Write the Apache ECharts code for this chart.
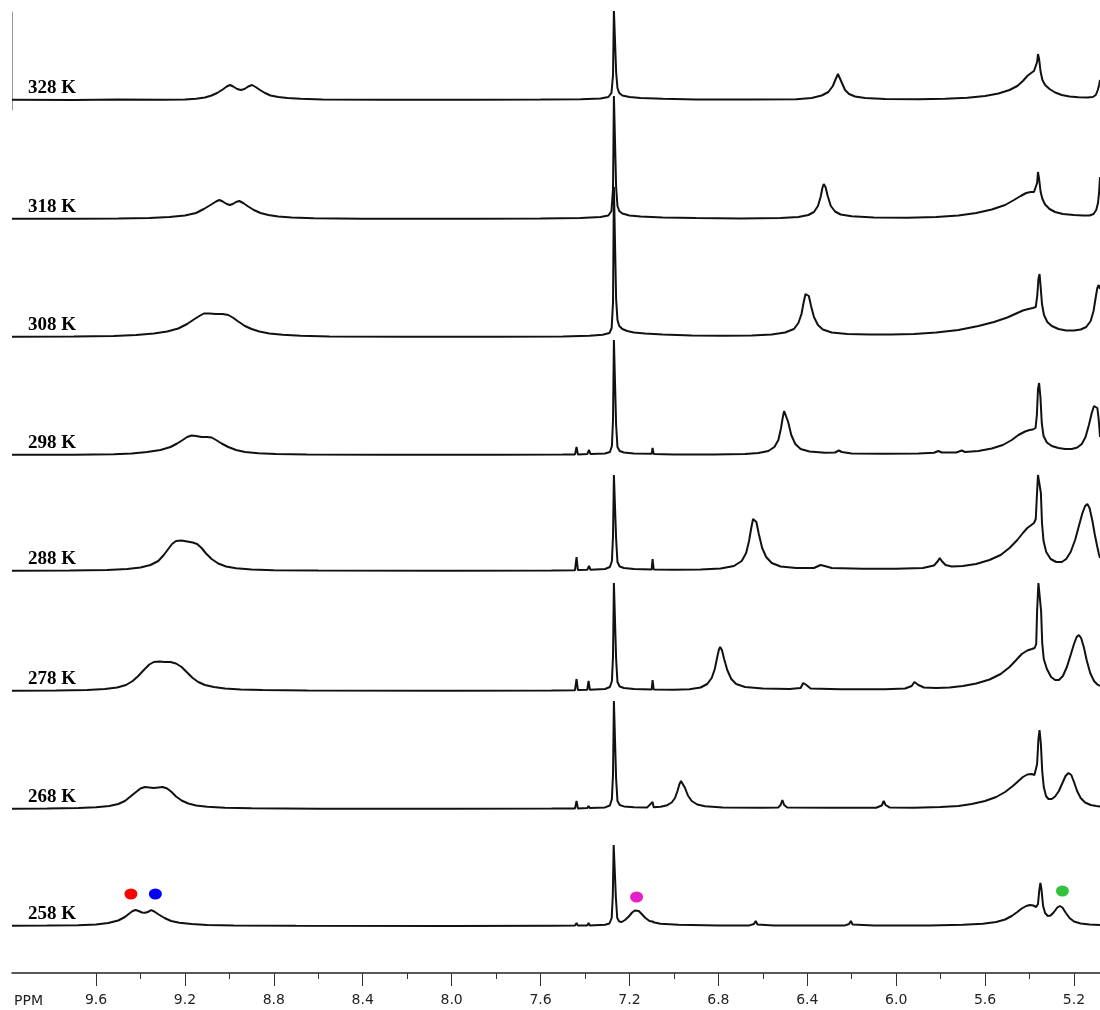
<!DOCTYPE html>
<html><head><meta charset="utf-8">
<script src="https://cdn.jsdelivr.net/npm/echarts@6/dist/echarts.min.js"></script>
<style>html,body{margin:0;padding:0;background:#fff}#c{width:1100px;height:1010px}</style>
</head><body><div id="c"></div><script>
const temperatures = ['328 K','318 K','308 K','298 K','288 K','278 K','268 K','258 K'];
const s328 = [[9.978,0.3],[9.7,0],[9.5,0.4],[9.3,0.3],[9.2,0.6],[9.15,1.2],[9.11,2.5],[9.08,4.5],[9.055,7],[9.03,10.5],[9.012,13.5],[8.997,15],[8.983,13.5],[8.965,11],[8.948,10],[8.932,11],[8.915,13.5],[8.898,15],[8.882,13],[8.862,10],[8.84,7],[8.815,4.5],[8.78,3],[8.74,2],[8.68,1.2],[8.58,0.6],[8.3,0.2],[7.9,0.2],[7.6,0.4],[7.42,0.8],[7.33,1.5],[7.295,3],[7.281,7],[7.274,25],[7.27,90],[7.264,90],[7.26,28],[7.254,12],[7.246,7],[7.232,4.5],[7.2,3],[7.15,2],[7.05,1.2],[6.9,0.6],[6.65,0.4],[6.45,0.8],[6.38,2],[6.335,4.5],[6.305,8],[6.285,14],[6.272,21],[6.262,26],[6.254,24],[6.244,17],[6.23,10],[6.212,6],[6.185,3.5],[6.14,2],[6.05,1],[5.9,0.8],[5.78,1.2],[5.68,2.2],[5.6,4],[5.54,6.5],[5.49,10],[5.455,14],[5.43,19],[5.41,24],[5.393,27],[5.38,29],[5.372,31],[5.366,38],[5.362,46],[5.357,41],[5.35,28],[5.342,20],[5.33,15],[5.31,11],[5.285,7.5],[5.255,5],[5.22,3.5],[5.18,2.8],[5.14,2.5],[5.115,3],[5.102,5],[5.093,10],[5.087,15],[5.083,20]];
const s318 = [[9.978,0.3],[9.7,0.2],[9.5,0.5],[9.36,1],[9.27,2],[9.2,3.5],[9.15,6],[9.115,10],[9.085,14],[9.06,17.5],[9.045,19],[9.03,17.5],[9.012,15],[8.998,14],[8.985,15],[8.97,17],[8.955,18],[8.938,16],[8.915,12.5],[8.89,9],[8.86,6],[8.825,4],[8.78,2.5],[8.72,1.5],[8.62,0.8],[8.4,0.3],[7.9,0.2],[7.6,0.5],[7.42,1],[7.33,2],[7.295,3.5],[7.281,8],[7.274,30],[7.27,123],[7.264,123],[7.26,32],[7.254,13],[7.246,8],[7.232,5.5],[7.2,3.5],[7.15,2.5],[7.05,1.5],[6.9,1],[6.7,0.6],[6.52,1],[6.44,2],[6.395,4],[6.37,7],[6.352,13],[6.34,22],[6.332,31],[6.326,35],[6.318,32],[6.308,23],[6.294,13],[6.275,7.5],[6.25,4.5],[6.2,2.8],[6.1,1.5],[5.95,1.2],[5.82,2],[5.72,3.5],[5.64,6],[5.57,9.5],[5.51,14],[5.47,19],[5.44,23],[5.415,26],[5.395,27],[5.38,27],[5.372,26],[5.366,36],[5.362,47],[5.357,40],[5.35,27],[5.342,20],[5.33,14.5],[5.31,10],[5.285,7],[5.25,5],[5.2,4],[5.16,3.5],[5.13,3.5],[5.112,5],[5.1,9],[5.092,16],[5.087,27],[5.083,42]];
const s308 = [[9.978,0.3],[9.7,0.4],[9.52,1],[9.42,2],[9.34,3.5],[9.28,5.5],[9.23,8.5],[9.19,13],[9.16,17.5],[9.135,21],[9.115,23.5],[9.09,23.5],[9.06,23],[9.03,23],[9.005,22],[8.985,19.5],[8.96,15.5],[8.93,11],[8.9,8],[8.865,5.5],[8.82,3.5],[8.76,2.2],[8.68,1.2],[8.55,0.6],[8.2,0.3],[7.8,0.3],[7.5,0.6],[7.38,1.2],[7.32,2.2],[7.29,4],[7.28,9],[7.274,35],[7.27,150],[7.264,150],[7.26,38],[7.254,17],[7.246,11],[7.232,8],[7.21,6],[7.18,4.5],[7.13,3.5],[7.05,2.5],[6.92,1.5],[6.78,1.2],[6.65,1.5],[6.56,2.5],[6.5,4.5],[6.46,8],[6.44,14],[6.426,23],[6.416,35],[6.408,43],[6.401,45],[6.393,41],[6.383,31],[6.37,20],[6.352,12],[6.33,7.5],[6.29,4.5],[6.22,3],[6.12,2.5],[6.02,2.5],[5.92,3],[5.82,4.5],[5.72,7],[5.63,11],[5.56,15],[5.5,19.5],[5.46,23.5],[5.43,26.5],[5.405,28],[5.385,29],[5.372,30],[5.365,42],[5.36,58],[5.355,63],[5.35,50],[5.344,33],[5.335,22],[5.32,15],[5.3,11],[5.27,8],[5.235,6.5],[5.2,6.5],[5.17,7.5],[5.145,10],[5.125,16],[5.112,26],[5.102,40],[5.095,49],[5.089,52],[5.083,48]];
const s298 = [[9.978,0.3],[9.7,0.3],[9.52,0.8],[9.44,1.5],[9.37,3],[9.31,5],[9.265,8],[9.235,11.5],[9.21,15],[9.19,18],[9.17,19.5],[9.15,19],[9.125,18],[9.1,18],[9.08,17.5],[9.06,15],[9.035,11.5],[9.005,8],[8.97,5],[8.93,3],[8.87,1.8],[8.79,1],[8.65,0.5],[8.3,0.2],[7.8,0.2],[7.5,0.4],[7.445,0.6],[7.438,8],[7.432,0.6],[7.39,0.9],[7.382,5],[7.375,0.9],[7.31,1.5],[7.288,3],[7.279,9],[7.274,35],[7.27,115],[7.264,115],[7.26,30],[7.254,8],[7.244,4],[7.225,2.5],[7.18,1.6],[7.1,1.2],[7.096,7],[7.091,1],[7.0,0.6],[6.82,0.6],[6.68,1],[6.62,2],[6.575,4],[6.548,8],[6.53,15],[6.518,27],[6.51,38],[6.504,44],[6.496,42],[6.486,33],[6.472,20],[6.454,11],[6.43,6],[6.39,3.5],[6.32,2.2],[6.275,2.5],[6.258,4.5],[6.245,3],[6.2,1.5],[6.05,1.2],[5.9,1.5],[5.83,2.2],[5.81,4],[5.795,2.5],[5.73,2.5],[5.705,4.5],[5.69,3],[5.63,4],[5.57,6.5],[5.52,10],[5.48,15],[5.45,20],[5.42,23.5],[5.4,25],[5.385,25.5],[5.373,27],[5.367,40],[5.362,66],[5.357,72],[5.351,58],[5.345,32],[5.337,19],[5.322,12.5],[5.3,9],[5.27,7],[5.24,6],[5.21,6],[5.185,7.5],[5.165,11],[5.148,18],[5.133,30],[5.12,42],[5.11,49],[5.103,51],[5.095,47],[5.089,36],[5.085,25],[5.083,18]];
const s288 = [[9.978,0.3],[9.72,0.5],[9.55,1],[9.46,2],[9.4,3.5],[9.355,6],[9.32,10],[9.295,16],[9.275,22],[9.258,27],[9.24,30],[9.215,30.5],[9.19,29.5],[9.165,28.5],[9.145,27],[9.125,23],[9.105,17.5],[9.08,12],[9.05,7.5],[9.015,4.5],[8.97,2.8],[8.9,1.6],[8.8,0.8],[8.6,0.4],[8.0,0.2],[7.55,0.5],[7.445,0.8],[7.438,14],[7.432,1],[7.39,1.2],[7.382,5],[7.375,1.2],[7.31,2],[7.288,4],[7.279,10],[7.274,35],[7.27,96],[7.264,96],[7.26,32],[7.254,9],[7.244,4.5],[7.225,3],[7.18,2],[7.1,1.6],[7.096,12],[7.091,1.5],[7.0,1.2],[6.88,1.5],[6.79,2.5],[6.73,5],[6.695,10],[6.675,18],[6.662,30],[6.652,43],[6.644,52],[6.637,54],[6.629,49],[6.618,37],[6.603,23],[6.585,14],[6.56,8],[6.52,4.5],[6.45,3],[6.37,3],[6.34,6],[6.332,8],[6.322,5],[6.29,3],[6.15,2.2],[6.0,2.2],[5.88,3],[5.83,5.5],[5.812,10],[5.804,13],[5.795,10],[5.778,6],[5.75,4.5],[5.7,5],[5.64,7],[5.58,11],[5.53,16],[5.49,23],[5.455,31],[5.43,38],[5.41,43],[5.392,46],[5.38,48],[5.372,52],[5.367,75],[5.362,96],[5.355,96],[5.349,78],[5.344,48],[5.337,30],[5.325,19],[5.305,12],[5.28,9],[5.255,9],[5.235,12],[5.215,19],[5.195,31],[5.178,45],[5.162,58],[5.15,65],[5.14,67],[5.13,63],[5.118,51],[5.106,36],[5.095,24],[5.088,17],[5.083,13]];
const s278 = [[9.978,0.3],[9.78,0.5],[9.64,1],[9.56,2],[9.505,3.5],[9.465,6],[9.435,10],[9.41,15],[9.385,21],[9.36,26.5],[9.34,29],[9.315,29.5],[9.29,29],[9.265,29],[9.24,27.5],[9.215,24],[9.19,18.5],[9.165,13],[9.14,9],[9.11,6],[9.07,4],[9.02,2.6],[8.95,1.6],[8.85,0.9],[8.65,0.4],[8.0,0.2],[7.55,0.5],[7.445,0.8],[7.438,12],[7.432,1],[7.39,1.2],[7.384,10],[7.378,1.2],[7.31,2],[7.288,4],[7.279,10],[7.274,35],[7.27,108],[7.264,108],[7.26,32],[7.254,9],[7.244,4.5],[7.225,3],[7.18,2],[7.1,1.6],[7.096,11],[7.091,1.5],[7.0,1.2],[6.93,1.8],[6.88,3.5],[6.85,7],[6.83,13],[6.816,22],[6.806,33],[6.798,41],[6.792,44],[6.784,41],[6.774,32],[6.76,21],[6.742,12],[6.72,7],[6.68,4],[6.6,2.5],[6.48,2],[6.43,3],[6.418,8],[6.412,10],[6.404,6],[6.385,2.5],[6.25,1.8],[6.05,1.8],[5.96,2.5],[5.93,5],[5.918,9],[5.91,10],[5.9,6],[5.875,3.5],[5.82,3],[5.76,3.5],[5.7,5],[5.64,7.5],[5.58,11.5],[5.53,17],[5.49,24],[5.46,31],[5.435,37],[5.41,40.5],[5.39,42],[5.377,43],[5.37,47],[5.366,80],[5.36,108],[5.354,108],[5.348,80],[5.343,48],[5.336,32],[5.322,22],[5.303,14],[5.285,11],[5.268,11],[5.25,15],[5.232,24],[5.215,36],[5.2,47],[5.188,54],[5.178,56],[5.168,53],[5.156,44],[5.142,30],[5.127,18],[5.11,10],[5.095,6.5],[5.083,5]];
const s268 = [[9.978,0.3],[9.82,0.5],[9.68,1],[9.6,1.8],[9.54,3],[9.5,5],[9.47,8],[9.445,12.5],[9.42,17],[9.4,20.5],[9.38,22],[9.36,21.5],[9.34,21],[9.32,21.5],[9.3,22],[9.28,20.5],[9.26,17],[9.24,12.5],[9.215,8.5],[9.185,5.5],[9.15,3.5],[9.1,2.2],[9.02,1.3],[8.9,0.7],[8.6,0.3],[8.0,0.2],[7.55,0.4],[7.445,0.6],[7.438,8],[7.432,0.6],[7.39,0.9],[7.384,3],[7.378,0.9],[7.31,1.6],[7.288,3.5],[7.279,10],[7.274,35],[7.27,108],[7.264,108],[7.26,30],[7.254,8],[7.244,4],[7.225,2.6],[7.18,1.8],[7.12,1.6],[7.096,7],[7.091,1.8],[7.06,2.2],[7.03,3.8],[7.01,6.5],[6.995,11],[6.984,18],[6.975,25],[6.968,28],[6.96,26.5],[6.95,21],[6.937,13.5],[6.92,8],[6.895,4.5],[6.86,2.8],[6.78,1.6],[6.6,1.2],[6.53,1.6],[6.52,4],[6.512,9],[6.504,4],[6.49,1.5],[6.3,1.2],[6.09,1.3],[6.065,3.5],[6.056,8],[6.048,4],[6.03,1.6],[5.92,1.3],[5.8,2],[5.72,3],[5.66,5],[5.6,8],[5.55,12],[5.51,17],[5.475,23],[5.45,28],[5.43,32],[5.41,34.5],[5.39,35],[5.378,34],[5.372,33],[5.366,45],[5.36,70],[5.355,79],[5.349,65],[5.343,38],[5.336,22],[5.326,13],[5.315,10],[5.3,10],[5.285,12.5],[5.268,18],[5.252,26],[5.238,33],[5.225,36],[5.212,34],[5.2,27],[5.186,18],[5.17,11],[5.15,6.5],[5.125,4],[5.1,3],[5.083,2.5]];
const s258 = [[9.978,0.3],[9.82,0.4],[9.68,0.8],[9.6,1.5],[9.545,3],[9.5,5.5],[9.47,9],[9.45,12.5],[9.435,15],[9.422,16],[9.408,15],[9.393,13.5],[9.38,13.2],[9.367,14],[9.352,15.8],[9.338,14.5],[9.318,11.5],[9.292,8],[9.262,5],[9.225,3.2],[9.17,1.9],[9.1,1.1],[8.98,0.6],[8.7,0.3],[8.0,0.1],[7.55,0.3],[7.445,0.4],[7.438,3],[7.432,0.4],[7.39,0.5],[7.384,3],[7.378,0.5],[7.31,1.2],[7.29,2.5],[7.28,8],[7.275,30],[7.271,81],[7.265,81],[7.261,28],[7.255,8],[7.246,4.5],[7.235,4],[7.22,6],[7.203,9.5],[7.188,13.5],[7.176,15.5],[7.168,16],[7.158,15],[7.145,12],[7.128,8],[7.11,5],[7.097,4.5],[7.093,5.5],[7.088,3.5],[7.06,2.2],[6.98,1.2],[6.8,0.6],[6.66,0.6],[6.64,2],[6.632,5],[6.624,1.5],[6.55,0.6],[6.23,0.6],[6.212,2],[6.204,5],[6.196,1.5],[6.1,0.6],[5.85,0.6],[5.7,1.2],[5.61,2.2],[5.55,4],[5.51,6.5],[5.48,10],[5.455,14],[5.435,17.5],[5.415,20],[5.398,21],[5.383,20.5],[5.37,19],[5.362,22],[5.356,36],[5.351,43],[5.346,36],[5.339,20],[5.33,13],[5.318,10],[5.305,10.5],[5.29,14],[5.275,18.5],[5.264,20],[5.252,18.5],[5.238,13.5],[5.22,8],[5.2,4.5],[5.17,2.5],[5.13,1.5],[5.083,1]];
const majorTicks = [9.6, 9.2, 8.8, 8.4, 8.0, 7.6, 7.2, 6.8, 6.4, 6.0, 5.6, 5.2];
const minorTicks = [9.4, 9.0, 8.6, 8.2, 7.8, 7.4, 7.0, 6.6, 6.2, 5.8, 5.4];
const markerPpm = [9.443, 9.333, 7.168, 5.252];
const markerHeight = [32, 32, 29, 35];
const markerColors = ['#ff0000', '#0000ff', '#e61ec8', '#33c23c'];

const spectra = [s328, s318, s308, s298, s288, s278, s268, s258];
const baselines = [100, 219, 337, 455, 571, 691, 809, 926];
const ppmMin = 5.083, ppmMax = 9.978;
const grids = [], xAxes = [], yAxes = [], series = [], graphics = [];
spectra.forEach((d, i) => {
  const top = i === 0 ? 12 : baselines[i] - 170;
  const up = baselines[i] - top;
  grids.push({left: 12, right: 0, top: top, height: up + 10});
  xAxes.push({gridIndex: i, type: 'value', min: ppmMin, max: ppmMax, inverse: true, show: false});
  yAxes.push({gridIndex: i, type: 'value', min: -10, max: up, show: i === 0,
    axisLine: {show: true, lineStyle: {color: '#999', width: 1}},
    axisTick: {show: false}, axisLabel: {show: false}, splitLine: {show: false}});
  series.push({type: 'line', xAxisIndex: i, yAxisIndex: i, data: d, showSymbol: false, symbol: 'none',
    lineStyle: {color: '#111', width: 2}, clip: true, animation: false, silent: true});
  graphics.push({type: 'text', x: 28, y: baselines[i] - 12,
    style: {text: temperatures[i], font: 'bold 19px "Liberation Serif"', fill: '#000', verticalAlign: 'middle'}});
});
// axis grid
grids.push({left: 12, right: 0, top: 972, height: 1});
yAxes.push({gridIndex: 8, type: 'value', show: false, min: 0, max: 1});
xAxes.push({gridIndex: 8, type: 'value', min: ppmMin, max: ppmMax, inverse: true, position: 'bottom',
  axisLine: {show: true, lineStyle: {color: '#222', width: 1.5}},
  axisTick: {show: true, customValues: majorTicks, length: 13, lineStyle: {color: '#333', width: 1}},
  axisLabel: {show: true, customValues: majorTicks, formatter: v => v.toFixed(1), margin: 20,
    fontSize: 14, fontFamily: '"DejaVu Sans"', color: '#222'},
  splitLine: {show: false}});
xAxes.push({gridIndex: 8, type: 'value', min: ppmMin, max: ppmMax, inverse: true, position: 'bottom',
  axisLine: {show: false},
  axisTick: {show: true, customValues: minorTicks, length: 6, lineStyle: {color: '#333', width: 1}},
  axisLabel: {show: false}, splitLine: {show: false}});
series.push({type: 'scatter', xAxisIndex: 7, yAxisIndex: 7, symbol: 'circle', symbolSize: [13, 11],
  animation: false, silent: true,
  data: markerPpm.map((p, k) => ({value: [p, markerHeight[k]], itemStyle: {color: markerColors[k], opacity: 1}}))});
graphics.push({type: 'text', x: 14, y: 1001,
  style: {text: 'PPM', font: '14px "DejaVu Sans"', fill: '#222', verticalAlign: 'middle'}});

const chart = echarts.init(document.getElementById('c'), null, {renderer: 'canvas'});
chart.setOption({animation: false, backgroundColor: '#fff', grid: grids, xAxis: xAxes, yAxis: yAxes, series: series, graphic: graphics});
</script></body></html>
